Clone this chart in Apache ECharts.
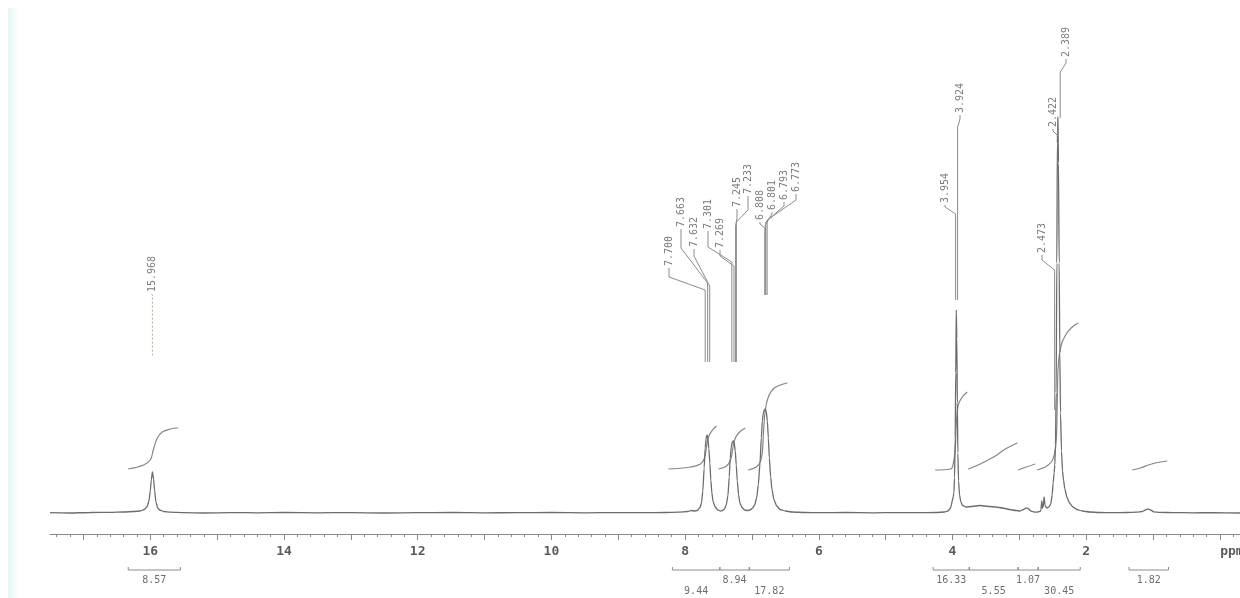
<!DOCTYPE html>
<html><head><meta charset="utf-8">
<script src="https://cdn.jsdelivr.net/npm/echarts@6/dist/echarts.min.js"></script>
<style>html,body{margin:0;padding:0;background:#fff}#c{width:1240px;height:598px}</style>
</head><body><div id="c"></div>
<script>
// ---------- DATA ----------
// spectrum: [ppm, intensity]
const spectrum = [
[17.5,0.3],[17.2,0],[16.9,0.5],[16.6,0.6],[16.4,1],[16.25,1.5],[16.15,2],[16.09,3.5],[16.05,6],[16.02,12],[16.0,22],[15.985,33],[15.968,41],[15.95,34],[15.935,22],[15.915,11],[15.89,5],[15.86,3],[15.8,1.5],[15.7,0.8],[15.5,0.3],[15.2,0],[14.8,0.4],[14.4,0.2],[14.0,0.5],[13.5,0.2],[13.0,0.4],[12.5,0],[12.0,0.3],[11.5,0.5],[11.0,0.1],[10.5,0.4],[10.0,0.5],[9.5,0.2],[9.0,0.4],[8.6,0.3],[8.3,0.5],[8.1,0.8],[7.96,1.5],[7.9,2.5],[7.86,2],
[7.82,2.5],[7.78,5],[7.755,10],[7.735,22],[7.715,45],[7.70,65],[7.685,75],[7.672,78],[7.66,75],[7.645,64],[7.63,50],[7.615,33],[7.60,20],[7.58,11],[7.55,6],[7.51,3],[7.47,2],[7.44,2.5],
[7.41,4],[7.385,8],[7.36,17],[7.34,36],[7.325,55],[7.31,66],[7.295,71],[7.28,72],[7.265,70],[7.25,62],[7.235,48],[7.22,32],[7.20,18],[7.18,10],[7.15,5.5],[7.11,3],[7.07,2.5],
[7.03,3],[6.99,5],[6.96,8],[6.93,15],[6.905,28],[6.88,50],[6.86,75],[6.845,92],[6.83,100],[6.815,103],[6.80,104],[6.785,101],[6.77,92],[6.755,75],[6.74,55],[6.72,36],[6.70,23],[6.67,13],[6.63,7],[6.58,3.5],[6.5,2],[6.4,1],[6.2,0.5],[6.0,0.3],[5.6,0.5],[5.2,0.2],[4.8,0.4],[4.5,0.3],[4.25,0.5],[4.12,1],
[4.07,2],[4.04,4],[4.02,7],[4.005,12],[3.99,16],[3.98,20],[3.97,35],[3.96,75],[3.952,140],[3.944,203],[3.936,175],[3.928,110],[3.92,60],[3.91,32],[3.895,18],[3.875,11],[3.85,7.5],[3.8,6],[3.72,6.5],[3.65,7],[3.59,7.5],[3.52,7],[3.45,6.5],[3.35,6],[3.25,5],[3.15,3.5],[3.05,2.5],[2.99,2],[2.94,3.5],[2.90,5],[2.87,4.5],[2.83,2],[2.78,1],[2.74,0.8],[2.70,1.5],[2.68,2],[2.665,12],[2.655,5],[2.645,6],[2.63,16],[2.615,7],[2.59,5],[2.56,6],
[2.53,9],[2.51,18],[2.495,30],[2.48,40],[2.47,48],[2.46,68],[2.45,120],[2.44,250],[2.432,370],[2.424,396],[2.415,350],[2.405,250],[2.395,160],[2.385,100],[2.37,62],[2.355,42],[2.34,33],[2.32,24],[2.29,16],[2.25,10],[2.2,6],[2.14,3.5],[2.06,2],[1.95,1],[1.8,0.5],[1.6,0.3],[1.4,0.5],[1.25,0.8],[1.16,1.5],[1.1,3.5],[1.07,4],[1.04,3],[0.99,1.2],[0.9,0.6],[0.7,0.4],[0.4,0.2],[0.1,0.3],[-0.3,0]
];

// integral curves: [ppm, integral height]
const integral1 = [[16.33,44],[16.10,48],[16.00,53],[15.955,63],[15.895,75],[15.82,81],[15.70,84],[15.58,85]];
const integral2 = [[8.25,44],[7.92,46],[7.77,49],[7.71,55],[7.68,66],[7.65,76],[7.59,83],[7.53,87]];
const integral3 = [[7.50,44],[7.38,47],[7.32,53],[7.29,63],[7.26,73],[7.20,80],[7.10,85]];
const integral4 = [[7.055,43],[6.935,46],[6.875,51],[6.845,61],[6.83,78],[6.80,103],[6.755,116],[6.665,125],[6.47,130]];
const integral5 = [[4.26,43],[4.03,44],[3.99,49],[3.96,63],[3.944,88],[3.914,108],[3.854,116],[3.78,121]];
const integral6 = [[3.765,44],[3.585,49],[3.36,57],[3.21,64],[3.03,70]];
const integral7 = [[3.017,43],[2.897,46],[2.763,49]];
const integral8 = [[2.733,43],[2.613,46],[2.523,51],[2.478,58],[2.448,73],[2.433,113],[2.418,148],[2.374,168],[2.30,179],[2.21,186],[2.12,190]];
const integral9 = [[1.31,43],[1.19,45],[1.07,48],[0.968,50],[0.788,52]];
const integralCurves = [integral1,integral2,integral3,integral4,integral5,integral6,integral7,integral8,integral9];

// peak picking labels
const peakLabels = ['15.968','7.700','7.663','7.632','7.301','7.269','7.245','7.233','6.808','6.801','6.793','6.773','3.954','3.924','2.473','2.422','2.389'];

// integration regions (ppm) and values
const intFrom = [16.33, 8.19, 7.48, 7.04, 4.29, 3.75, 3.02, 2.72, 1.36];
const intTo   = [15.55, 7.48, 7.04, 6.44, 3.75, 3.02, 2.72, 2.09, 0.77];
const intValues = ['8.57','9.44','8.94','17.82','16.33','5.55','1.07','30.45','1.82'];

// axis tick labels (ppm)
const tickLabels = [16,14,12,10,8,6,4,2,0];
const minorStep = 0.2;

// ---------- LAYOUT (pixels, annotations only) ----------
// [textX, textBottom, jogTop, jogBottom, leaderEnd]
const peakLabelLayout = [
[152,292,295,295,357],
[669,266,277,290,362],
[681,227,248,283,362],
[694,247,256,286,362],
[708,229,247,262,362],
[720,248,256,266,362],
[737,207,218,226,362],
[748,194,210,222,362],
[760,220,224,228,295],
[772,210,214,225,295],
[784,200,206,222,295],
[796,192,200,220,295],
[945,203,207,214,300],
[960,113,119,127,300],
[1042,253,260,270,410],
[1053,127,131,136,118],
[1066,57,63,72,118]
];
const intRow = [0,1,0,1,0,1,0,1,0];

const minorTicks = [];
for (let v = -0.2; v <= 17.45; v += minorStep) minorTicks.push(Math.round(v*10)/10);
const majorTicks = [];
for (let v = 0; v <= 17; v += 1) majorTicks.push(v);

const chart = echarts.init(document.getElementById('c'), null, {renderer:'canvas'});
const mono = '"DejaVu Sans Mono", "Liberation Mono", monospace';

const series = [];
series.push({
  type:'line', data: spectrum, showSymbol:false, smooth:0.2, smoothMonotone:'x',
  lineStyle:{color:'#6c6c6c', width:1.3}, silent:true, z:3
});
integralCurves.forEach(c => series.push({
  type:'line', data:c, showSymbol:false, smooth:0.4,
  lineStyle:{color:'#858585', width:1.2}, silent:true, z:2
}));
series.push({
  type:'custom', silent:true, clip:false, z:4,
  data: peakLabels.map(t => [parseFloat(t), 0]),
  renderItem(params, api){
    const i = params.dataIndex;
    const L = peakLabelLayout[i];
    const px = api.coord([api.value(0), 0])[0];
    return {type:'group', children:[
      {type:'polyline', shape:{points:[[L[0],L[1]+2],[L[0],L[2]],[px,L[3]],[px,L[4]]]},
       style:{stroke: i===0 ? '#b0b090' : '#8c8c8c', lineWidth:1, fill:null, lineDash: i===0?[2,2]:null}},
      {type:'text', x:L[0], y:L[1], rotation:Math.PI/2,
       style:{text:peakLabels[i], fill:'#7a7a7a', fontSize:10, fontFamily:mono, align:'left', verticalAlign:'middle'}}
    ]};
  }
});
series.push({
  type:'custom', silent:true, clip:false, z:4,
  data: intFrom.map((f,i) => [f, intTo[i]]),
  encode:{x:[0,1]},
  renderItem(params, api){
    const i = params.dataIndex;
    const x1 = api.coord([api.value(0), 0])[0];
    const x2 = api.coord([api.value(1), 0])[0];
    const y = 570;
    return {type:'group', children:[
      {type:'line', shape:{x1:x1, y1:y, x2:x2, y2:y}, style:{stroke:'#8c8c8c', lineWidth:1}},
      {type:'line', shape:{x1:x1, y1:y-3, x2:x1, y2:y}, style:{stroke:'#8c8c8c', lineWidth:1}},
      {type:'line', shape:{x1:x2, y1:y-3, x2:x2, y2:y}, style:{stroke:'#8c8c8c', lineWidth:1}},
      {type:'text', x:(x1+x2)/2, y: intRow[i] ? 591 : 580,
       style:{text:intValues[i], fill:'#6e6e6e', fontSize:10, fontFamily:mono, align:'center', verticalAlign:'middle'}}
    ]};
  }
});

chart.setOption({
  animation:false,
  backgroundColor:'#ffffff',
  graphic:[{type:'rect', left:8, top:8, shape:{width:10, height:590}, silent:true,
    style:{fill:new echarts.graphic.LinearGradient(0,0,1,0,[{offset:0,color:'#e2f7f2'},{offset:1,color:'#ffffff'}])}}],
  grid:{left:50, right:0, top:13, bottom:64, containLabel:false, outerBoundsMode:'none'},
  xAxis:[{
    type:'value', min:-0.3, max:17.5, inverse:true, position:'bottom',
    axisLine:{show:true, onZero:false, lineStyle:{color:'#8a8a8a', width:1}},
    axisTick:{show:true, length:3, customValues:minorTicks, lineStyle:{color:'#8a8a8a'}},
    axisLabel:{show:true, customValues:tickLabels, margin:11, color:'#5a5a5a', fontSize:13, fontFamily:mono, fontWeight:'bold',
      formatter: v => v === 0 ? '{p|ppm}' : String(v),
      rich:{p:{padding:[0,0,0,24], color:'#5a5a5a', fontSize:13, fontFamily:mono, fontWeight:'bold'}}},
    splitLine:{show:false}
  },{
    type:'value', min:-0.3, max:17.5, inverse:true, position:'bottom', gridIndex:0,
    axisLine:{show:false, onZero:false},
    axisTick:{show:true, length:6, customValues:majorTicks, lineStyle:{color:'#8a8a8a'}},
    axisLabel:{show:false}, splitLine:{show:false}
  }],
  yAxis:{type:'value', min:-21, max:500, show:false, splitLine:{show:false}},
  series: series
});
</script></body></html>
